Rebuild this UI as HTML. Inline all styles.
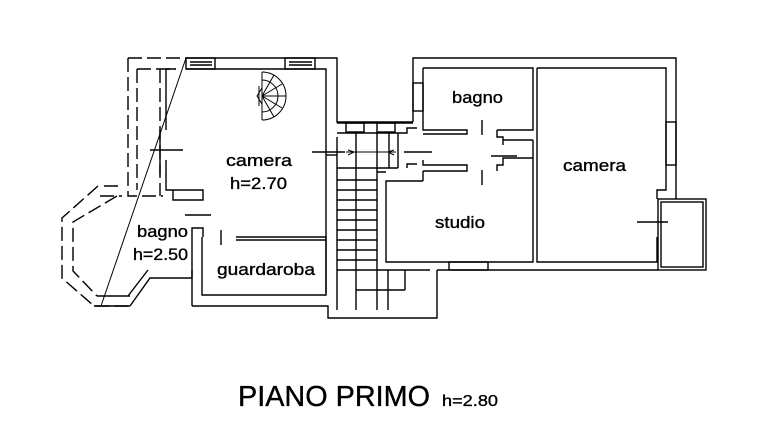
<!DOCTYPE html>
<html><head><meta charset="utf-8"><style>
body{margin:0;background:#fff;}
svg{display:block}
text{font-family:"Liberation Sans",Arial,sans-serif;fill:#000}
.l{stroke:#000;stroke-width:0.35}
</style></head><body>
<svg width="762" height="438" viewBox="0 0 762 438" xmlns="http://www.w3.org/2000/svg">
<g fill="none" stroke="#000" stroke-width="1.4">
<g stroke-dasharray="14,5">
<path d="M128,58 H186"/>
<path d="M128,58 V196 H163"/>
<path d="M137,69 H176 M160,69 V190 M137,69 V190"/>
<path d="M98,186 L62,218 V278 L94,306 H130"/>
<path d="M117,196 L73,222 V271 L97,296"/>
<path d="M100,196 H122 M104,186 H123"/>
</g>
<path d="M186,58 H337 V122 H413"/>
<path d="M186,69 H326 V137"/>
<path d="M176,69 H166 V130 M160,130 V175 M166,160 V190 H203 V200 H173 V190 M160,190 V196"/>
<path d="M150,150 H183"/>
<rect x="186" y="58" width="29" height="11"/><rect x="285" y="58" width="30" height="11"/>
<path d="M190,62 H212 M190,65 H212 M289,62 H312 M289,65 H312"/>
<!-- spiral stair -->
<g stroke-width="1">
<path d="M262,72 A24,24 0 0 1 262,120"/>
<path d="M262,80 A16,16 0 0 1 262,112"/>
<path d="M262,96 L262,72 M262,96 L274,75 M262,96 L282,84 M262,96 L286,96 M262,96 L282,108 M262,96 L274,117 M262,96 L262,120"/>
<path d="M259,86 V106 M262,88 L257,96 L262,104"/>
</g>
<path d="M130,306 L150,278 H192 V228 H203 V237 M202,237 V295 H326 V237"/>
<path d="M130,296 H97 M128,296 L148,270 M130,306 L94,306"/>
<path d="M185,215 H211 M221,230 V245"/>
<path d="M236,237 H326 M236,240 H326"/>
<path d="M192,306 H328 V318 H437 V270"/>
<path d="M192,270 V306"/>
<line x1="186" y1="58" x2="101" y2="306" stroke-width="1"/>
<path d="M326,137 V293 M337,137 V310"/>
<path d="M312,152 H345"/>
<path d="M326,155 H337"/>
<path d="M337,123 H413 M337,133 H407 V128 H417 M407,168 V164 H417 M337,168 H398"/>
<rect x="346" y="123" width="18" height="9"/><rect x="377" y="123" width="18" height="9"/>
<path d="M356,133 V310 M377,133 V172 M389,133 V168 M398,133 V168"/>
<path d="M337,180 H377 M337,190 H377 M337,200 H377 M337,210 H377 M337,220 H377 M337,230 H377 M337,240 H377 M337,250 H377 M337,260 H377 M337,270 H430"/>
<path d="M377,172 H386 M377,172 V310 M388,270 V310 M405,270 V290 M356,290 H405"/>
<path d="M346,152 H396 M348,150 L354,152 L348,155 M394,150 L388,152 L394,155" stroke-width="1"/>
<path d="M404,152 H432"/>
<path d="M413,122 V58 H676 V199"/>
<path d="M423,68 H533 V130 H497 M537,68 H666 V190 H657 V199"/>
<path d="M423,68 V130 H467 V134 H423 M423,160 V165 H467 V171 H423"/>
<path d="M537,68 V262 H658 M533,140 V262 H386 V181 H423 M423,171 V181"/>
<path d="M497,130 V137 H503 V145 M497,171 V165 H503 V158 H533 M533,140 H503"/>
<path d="M482,120 V135 M482,170 V185 M491,156 H517 M637,222 H668"/>
<rect x="413" y="83" width="10" height="28"/>
<rect x="666" y="122" width="10" height="43"/>
<path d="M657,237 V262"/>
<rect x="449" y="262" width="39" height="8"/>
<rect x="658" y="199" width="48" height="71"/><rect x="661" y="202" width="42" height="65"/>
<path d="M437,270 H658"/>
</g>
<g font-size="17" class="l">
<text x="226" y="166" textLength="66" lengthAdjust="spacingAndGlyphs">camera</text>
<text x="230" y="189" textLength="57" lengthAdjust="spacingAndGlyphs">h=2.70</text>
<text x="137" y="237" textLength="51" lengthAdjust="spacingAndGlyphs">bagno</text>
<text x="133" y="260" textLength="55" lengthAdjust="spacingAndGlyphs">h=2.50</text>
<text x="217" y="275" textLength="98" lengthAdjust="spacingAndGlyphs">guardaroba</text>
<text x="452" y="103" textLength="51" lengthAdjust="spacingAndGlyphs">bagno</text>
<text x="563" y="171" textLength="63" lengthAdjust="spacingAndGlyphs">camera</text>
<text x="435" y="228" textLength="50" lengthAdjust="spacingAndGlyphs">studio</text>
</g>
<text x="238" y="406" font-size="29" textLength="192" lengthAdjust="spacingAndGlyphs" class="l">PIANO PRIMO</text>
<text x="442" y="406" font-size="16" textLength="56" lengthAdjust="spacingAndGlyphs" class="l">h=2.80</text>
</svg>
</body></html>
